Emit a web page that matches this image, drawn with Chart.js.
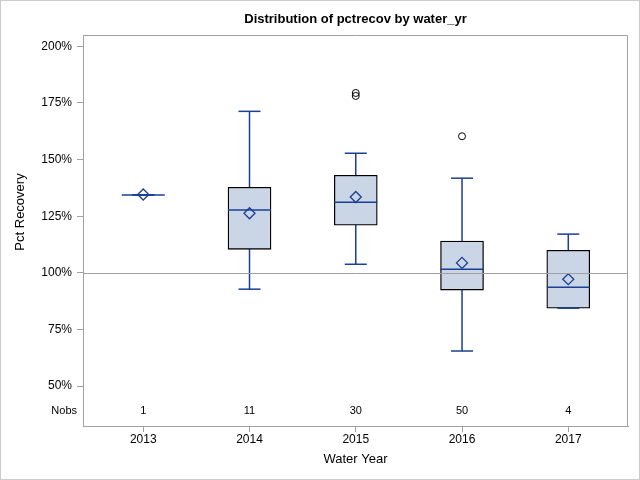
<!DOCTYPE html>
<html>
<head>
<meta charset="utf-8">
<script src="https://cdn.jsdelivr.net/npm/chart.js@4.4.1/dist/chart.umd.min.js"></script>
<style>
  html, body { margin: 0; padding: 0; background: #fff; }
  #wrap { width: 640px; height: 480px; position: relative; }
</style>
</head>
<body>
<div id="wrap"><canvas id="g1" width="640" height="480"></canvas></div>
<script>
//data per water year
var years = [2013, 2014, 2015, 2016, 2017];
var nobs = [1, 11, 30, 50, 4];
var whiskerLow = [134.4, 92.8, 103.8, 65.5, 84.4];
var q1 = [134.4, 110.4, 121.0, 92.4, 84.4];
var median = [134.4, 127.8, 131.2, 101.6, 93.7];
var q3 = [134.4, 137.8, 143.1, 114.0, 110.0];
var whiskerHigh = [134.4, 171.3, 152.8, 141.8, 117.1];
var mean = [134.6, 126.3, 133.5, 104.4, 97.2];
var outlierYears = [2015, 2015, 2016];
var outlierValues = [179.4, 178.1, 160.3];
var yTicks = [50, 75, 100, 125, 150, 175, 200];

var blue = '#1b3f96';
var fill = '#cad5e5';
var axisGray = '#a0a0a0';
var fontName = '"Liberation Sans", Arial, sans-serif';

//build points
var boxData = years.map(function(y, i) { return {x: y, y: [q1[i], q3[i]]}; });
var medData = years.map(function(y, i) { return {x: y, y: median[i]}; });
var meanData = years.map(function(y, i) { return {x: y, y: mean[i]}; });
var lowData = years.map(function(y, i) { return {x: y, y: whiskerLow[i]}; });
var highData = years.map(function(y, i) { return {x: y, y: whiskerHigh[i]}; });
var outData = outlierYears.map(function(y, i) { return {x: y, y: outlierValues[i]}; });
var whiskerData = [];
for (var i = 0; i < years.length; i++) {
    whiskerData.push({x: years[i], y: whiskerLow[i]});
    whiskerData.push({x: years[i], y: whiskerHigh[i]});
    whiskerData.push({x: years[i], y: null});
}

//frame, reference line, titles and Nobs row
var decor = {
    id: 'decor',
    beforeDraw: function(chart) {
        var c = chart.ctx;
        c.save();
        c.fillStyle = '#fff';
        c.fillRect(0, 0, chart.width, chart.height);
        c.strokeStyle = '#cccccc';
        c.lineWidth = 1;
        c.strokeRect(0.5, 0.5, chart.width - 1, chart.height - 1);
        c.restore();
    },
    afterDatasetsDraw: function(chart) {
        var c = chart.ctx;
        var a = chart.chartArea;
        var ys = chart.scales.y;
        var xs = chart.scales.x;
        c.save();
        //reference line at 100%
        var ry = Math.round(ys.getPixelForValue(100)) + 0.5;
        c.strokeStyle = axisGray;
        c.lineWidth = 1;
        c.beginPath();
        c.moveTo(a.left, ry);
        c.lineTo(a.right, ry);
        c.stroke();
        //top + right frame
        c.beginPath();
        c.moveTo(a.left, a.top + 0.5);
        c.lineTo(a.right - 0.5, a.top + 0.5);
        c.lineTo(a.right - 0.5, a.bottom);
        c.stroke();
        //Nobs row
        c.fillStyle = '#000';
        c.font = '11px ' + fontName;
        c.textBaseline = 'middle';
        c.textAlign = 'center';
        for (var i = 0; i < years.length; i++) {
            c.fillText(String(nobs[i]), xs.getPixelForValue(years[i]), a.bottom - 15);
        }
        c.textAlign = 'right';
        c.fillText('Nobs', a.left - 6, a.bottom - 15);
        //title
        c.font = 'bold 13px ' + fontName;
        c.textAlign = 'center';
        c.fillText('Distribution of pctrecov by water_yr', (a.left + a.right) / 2, 19);
        //y title
        c.font = '13px ' + fontName;
        c.translate(20, 212);
        c.rotate(-Math.PI / 2);
        c.fillText('Pct Recovery', 0, 0);
        c.restore();
    }
};

var ctx_1 = document.getElementById('g1');

var myChart = new Chart(ctx_1, {
    type: 'bar',
    data: {
        datasets: [{
            type: 'scatter',
            label: 'outliers',
            data: outData,
            pointStyle: 'circle',
            pointRadius: 3.5,
            borderColor: '#000',
            backgroundColor: 'rgba(0,0,0,0)',
            borderWidth: 1
        }, {
            type: 'scatter',
            label: 'mean',
            data: meanData,
            pointStyle: 'rectRot',
            pointRadius: 5.5,
            borderColor: blue,
            backgroundColor: 'rgba(0,0,0,0)',
            borderWidth: 1.3
        }, {
            type: 'scatter',
            label: 'median',
            data: medData,
            pointStyle: 'line',
            pointRadius: 21.5,
            borderColor: blue,
            borderWidth: 1.5
        }, {
            type: 'scatter',
            label: 'low cap',
            data: lowData,
            pointStyle: 'line',
            pointRadius: 11,
            borderColor: blue,
            borderWidth: 1.5
        }, {
            type: 'scatter',
            label: 'high cap',
            data: highData,
            pointStyle: 'line',
            pointRadius: 11,
            borderColor: blue,
            borderWidth: 1.5
        }, {
            type: 'bar',
            label: 'box',
            data: boxData,
            barThickness: 43,
            backgroundColor: fill,
            borderColor: '#000',
            borderWidth: 1.3,
            borderSkipped: false
        }, {
            type: 'line',
            label: 'whisker',
            data: whiskerData,
            borderColor: blue,
            borderWidth: 1.5,
            pointRadius: 0,
            spanGaps: false,
            fill: false
        }]
    },
    options: {
        responsive: false,
        animation: false,
        devicePixelRatio: 1,
        layout: {
            autoPadding: false,
            padding: {top: 35, right: 12, left: 0, bottom: 0}
        },
        plugins: {
            legend: {display: false},
            tooltip: {enabled: false},
            title: {display: false}
        },
        scales: {
            x: {
                type: 'linear',
                offset: false,
                min: 2012.433,
                max: 2017.562,
                afterBuildTicks: function(s) {
                    s.ticks = years.map(function(v) { return {value: v}; });
                },
                afterFit: function(s) {
                    s.height = 54;
                    s.paddingLeft = 0;
                    s.paddingRight = 0;
                },
                grid: {
                    display: true,
                    offset: false,
                    drawOnChartArea: false,
                    tickLength: 6,
                    color: axisGray
                },
                border: {display: true, color: axisGray},
                ticks: {
                    padding: 0,
                    color: '#000',
                    font: {family: fontName, size: 12},
                    callback: function(v) { return String(v); }
                },
                title: {
                    display: true,
                    text: 'Water Year',
                    color: '#000',
                    font: {family: fontName, size: 13},
                    padding: {top: 4, bottom: 13}
                }
            },
            y: {
                min: 32.4,
                max: 205,
                afterBuildTicks: function(s) {
                    s.ticks = yTicks.map(function(v) { return {value: v}; });
                },
                afterFit: function(s) {
                    s.width = 83;
                    s.paddingTop = 0;
                    s.paddingBottom = 0;
                },
                grid: {
                    display: true,
                    drawOnChartArea: false,
                    tickLength: 6,
                    color: axisGray
                },
                border: {display: true, color: axisGray},
                ticks: {
                    padding: 5,
                    color: '#000',
                    font: {family: fontName, size: 12},
                    callback: function(v) { return v + '%'; }
                }
            }
        }
    },
    plugins: [decor]
});
</script>
</body>
</html>
